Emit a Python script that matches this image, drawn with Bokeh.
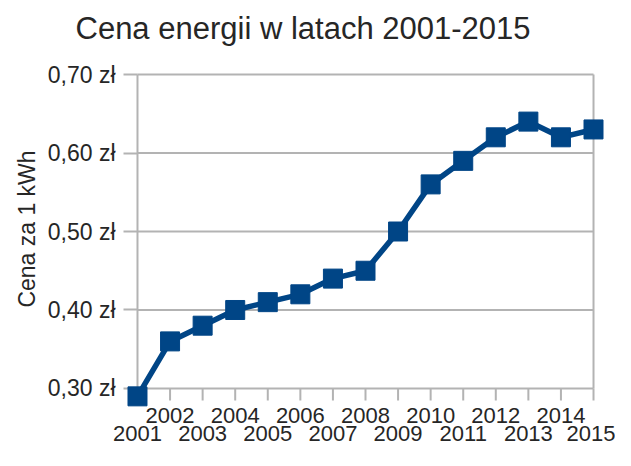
from bokeh.plotting import figure
from bokeh.models import Range1d, FixedTicker, LinearAxis, Title
from bokeh.embed import file_html
from bokeh.resources import INLINE

# ---- data ----
years = [2001, 2002, 2003, 2004, 2005, 2006, 2007, 2008,
         2009, 2010, 2011, 2012, 2013, 2014, 2015]
prices = [0.29, 0.36, 0.38, 0.40, 0.41, 0.42, 0.44, 0.45,
          0.50, 0.56, 0.59, 0.62, 0.64, 0.62, 0.63]
x_tick_labels = ["2001", "2002", "2003", "2004", "2005", "2006", "2007", "2008",
                 "2009", "2010", "2011", "2012", "2013", "2014", "2015"]
y_ticks = [0.30, 0.40, 0.50, 0.60, 0.70]
y_tick_labels = ["0,30 zł", "0,40 zł", "0,50 zł", "0,60 zł", "0,70 zł"]
chart_title = "Cena energii w latach 2001-2015"
y_title = "Cena za 1 kWh"

# ---- style ----
BLUE = "#004586"
GRID = "#b3b3b3"
TEXT = "#262626"
FONT = "Liberation Sans"
TICK_LEN = 12 / 785  # tick length in data units (12 px)

p = figure(width=615, height=450,
           x_range=Range1d(2000.632, 2015.368), y_range=Range1d(0.27834, 0.72803),
           x_axis_location=None, y_axis_location=None,
           output_backend="svg", toolbar_location=None,
           min_border_left=125, min_border_right=10,
           min_border_top=52, min_border_bottom=45)
p.outline_line_color = None
p.background_fill_color = "white"
p.border_fill_color = "white"
for g in p.grid:
    g.visible = False

# title
p.title = Title(text=chart_title, align="left", offset=-50, standoff=14,
                text_font=FONT, text_font_size="31px", text_font_style="normal",
                text_color=TEXT)

# grid lines (horizontal) from first to last year
n_y = len(y_ticks)
p.segment(x0=[years[0]] * n_y, y0=y_ticks, x1=[years[-1]] * n_y, y1=y_ticks,
          line_color=GRID, line_width=2)
# left axis line and right border
p.segment(x0=[years[0], years[-1]], y0=[y_ticks[0]] * 2,
          x1=[years[0], years[-1]], y1=[y_ticks[-1]] * 2,
          line_color=GRID, line_width=2)
# x tick marks hanging below the bottom line
n_x = len(years)
p.segment(x0=years, y0=[y_ticks[0]] * n_x, x1=years, y1=[y_ticks[0] - TICK_LEN] * n_x,
          line_color=GRID, line_width=2)

# data
p.line(years, prices, line_color=BLUE, line_width=5.5, level="overlay")
p.scatter(years, prices, marker="square", size=19, fill_color=BLUE,
          line_color=BLUE, level="overlay")

# y axis
yaxis = LinearAxis(ticker=FixedTicker(ticks=y_ticks),
                   major_label_overrides={t: l for t, l in zip(y_ticks, y_tick_labels)},
                   axis_line_color=None,
                   major_tick_in=12, major_tick_out=2,
                   major_tick_line_color=GRID, major_tick_line_width=2,
                   minor_tick_line_color=None,
                   major_label_standoff=8,
                   major_label_text_font=FONT, major_label_text_font_size="23px",
                   major_label_text_color=TEXT)
p.add_layout(yaxis, "left")
p.add_layout(Title(text=y_title, align="center",
                   text_font=FONT, text_font_size="23px", text_font_style="normal",
                   text_color=TEXT), "left")

# x axes: even years on the first row, odd years on the second row
lab = dict(zip(years, x_tick_labels))
for sel, standoff in ((years[1::2], 2), (years[0::2], 0)):
    ax = LinearAxis(ticker=FixedTicker(ticks=sel),
                    major_label_overrides={y: lab[y] for y in sel},
                    axis_line_color=None,
                    major_tick_in=0, major_tick_out=0,
                    major_tick_line_color=None, minor_tick_line_color=None,
                    major_label_standoff=standoff,
                    major_label_text_font=FONT, major_label_text_font_size="22px",
                    major_label_text_color=TEXT)
    p.add_layout(ax, "below")

open("out.html", "w").write(file_html(p, INLINE))
